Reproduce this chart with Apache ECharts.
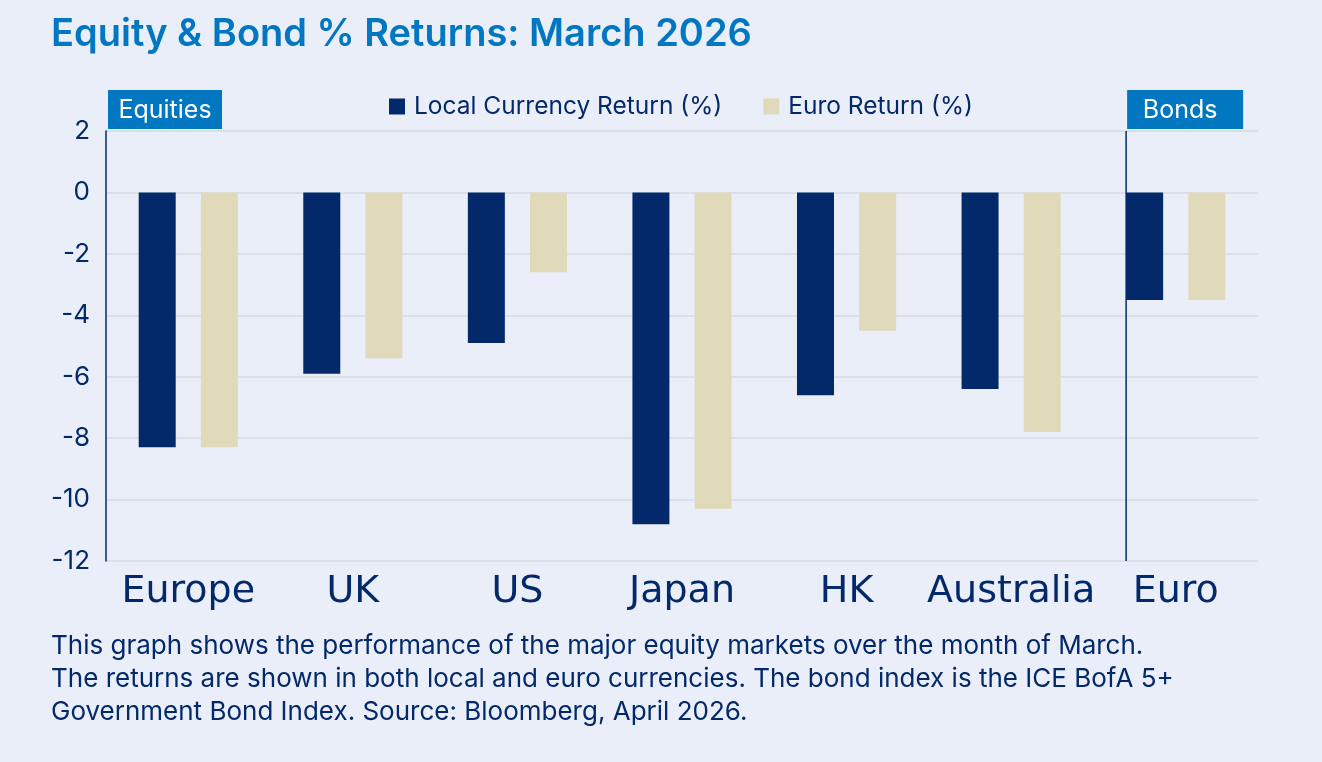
<!DOCTYPE html>
<html>
<head>
<meta charset="utf-8">
<script src="https://cdn.jsdelivr.net/npm/echarts@6/dist/echarts.min.js"></script>
<style>
html,body{margin:0;padding:0;background:#eaeef8;}
#c{width:1322px;height:762px;}
</style>
</head>
<body>
<div id="c"></div>
<script>
const categories = ['Europe', 'UK', 'US', 'Japan', 'HK', 'Australia', 'Euro'];
const localReturn = [-8.3, -5.9, -4.9, -10.8, -6.6, -6.4, -3.5];
const euroReturn = [-8.3, -5.4, -2.6, -10.3, -4.5, -7.8, -3.5];
const seriesNames = ['Local Currency Return (%)', 'Euro Return (%)'];
const yTicks = { min: -12, max: 2, interval: 2 };

const NAVY = '#03296a';
const BEIGE = '#e0dabb';
const BLUE = '#0077c0';
const FONT = 'Inter';
const WIDE = 'DejaVu Sans';

const chart = echarts.init(document.getElementById('c'));
const option = {
  backgroundColor: '#eaeef8',
  animation: false,
  textStyle: { fontFamily: FONT },
  title: [{
    text: 'Equity & Bond % Returns: March 2026',
    left: 46, top: 11,
    textStyle: { color: BLUE, fontSize: 38, fontWeight: 600, fontFamily: FONT }
  }, {
    text: 'This graph shows the performance of the major equity markets over the month of March.\nThe returns are shown in both local and euro currencies. The bond index is the ICE BofA 5+\nGovernment Bond Index. Source: Bloomberg, April 2026.',
    left: 46, top: 625,
    textStyle: { color: NAVY, fontSize: 26, fontWeight: 400, lineHeight: 33, fontFamily: FONT }
  }],
  legend: {
    data: seriesNames,
    top: 89, left: 384,
    itemWidth: 16, itemHeight: 16, itemGap: 41,
    icon: 'rect',
    textStyle: { color: NAVY, fontSize: 24.5, fontFamily: FONT, padding: [0, 0, 0, 4] }
  },
  grid: { left: 106, right: 64, top: 131, bottom: 201, containLabel: false },
  xAxis: {
    type: 'category',
    data: categories,
    axisLine: { show: false },
    axisTick: { show: false },
    axisLabel: { color: NAVY, fontSize: 38, margin: 12, fontFamily: WIDE, interval: 0 }
  },
  yAxis: {
    type: 'value',
    min: yTicks.min, max: yTicks.max, interval: yTicks.interval,
    axisLine: { show: true, lineStyle: { color: NAVY, width: 1.5 } },
    axisTick: { show: false },
    axisLabel: { color: NAVY, fontSize: 26, margin: 16, fontFamily: FONT },
    splitLine: { lineStyle: { color: '#dbe0e8', width: 2 } }
  },
  series: [{
    name: seriesNames[0], type: 'bar', data: localReturn,
    barWidth: 37, barGap: '68%',
    itemStyle: { color: NAVY }
  }, {
    name: seriesNames[1], type: 'bar', data: euroReturn,
    barWidth: 37, barGap: '68%',
    itemStyle: { color: BEIGE }
  }]
};
chart.setOption(option);

function addDecor() {
  const euroIdx = categories.length - 1;
  const cx = chart.convertToPixel({ xAxisIndex: 0 }, categories[euroIdx]);
  const topY = chart.convertToPixel({ yAxisIndex: 0 }, yTicks.max);
  const botY = chart.convertToPixel({ yAxisIndex: 0 }, yTicks.min);
  const groupHalf = (37 * 2 + 37 * 0.68) / 2;
  const lineX = cx - groupHalf;
  const leftX = chart.convertToPixel({ xAxisIndex: 0 }, categories[0]) - chart.getModel().getComponent('xAxis', 0).axis.getBandWidth() / 2;
  chart.setOption({
    graphic: [
      { type: 'line', shape: { x1: lineX, y1: topY, x2: lineX, y2: botY }, style: { stroke: NAVY, lineWidth: 1.5 }, z: 10 },
      { type: 'rect', shape: { x: leftX + 2, y: topY - 41, width: 114, height: 39 }, style: { fill: BLUE }, z: 10 },
      { type: 'text', x: leftX + 2 + 57, y: topY - 20.5, style: { text: 'Equities', fill: '#ffffff', font: '400 25px ' + FONT, align: 'center', verticalAlign: 'middle' }, z: 11 },
      { type: 'rect', shape: { x: lineX + 1, y: topY - 41, width: 116, height: 39 }, style: { fill: BLUE }, z: 10 },
      { type: 'text', x: lineX + 1 + 53, y: topY - 20.5, style: { text: 'Bonds', fill: '#ffffff', font: '400 25px ' + FONT, align: 'center', verticalAlign: 'middle' }, z: 11 }
    ]
  });
}
addDecor();
</script>
</body>
</html>
